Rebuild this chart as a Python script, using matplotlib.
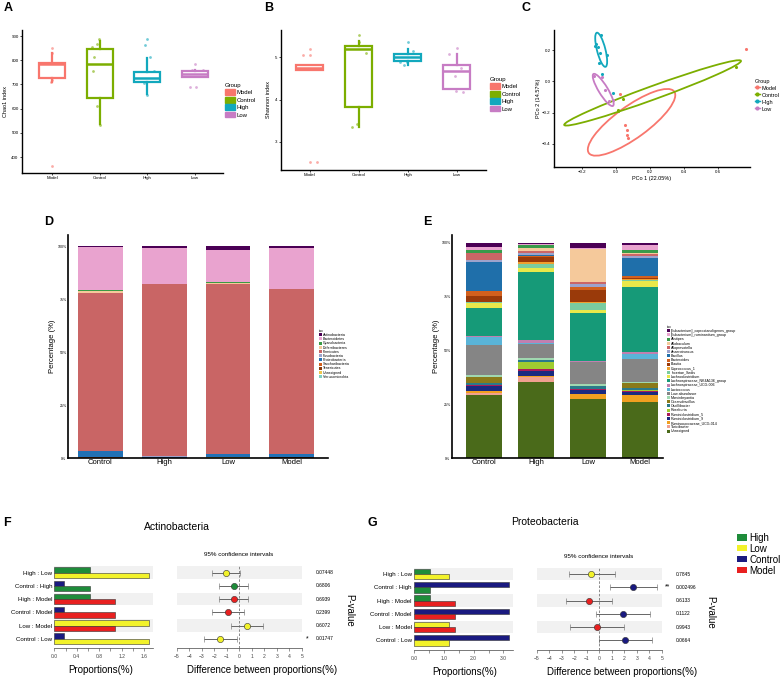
import numpy as np
import matplotlib
matplotlib.use("Agg")
import matplotlib.pyplot as plt
from matplotlib.patches import Ellipse, Patch
from matplotlib.lines import Line2D

plt.rcParams['font.family'] = ['Liberation Sans', 'DejaVu Sans']

# ---------------- data ----------------
groups = ["Model", "Control", "High", "Low"]
group_colors = ["#F8766D", "#7CAE00", "#12A8BD", "#C77CC4"]

# A: Chao1
chao_q1 = [725, 645, 710, 730]
chao_med = [783, 785, 728, 745]
chao_q3 = [790, 845, 750, 757]
chao_lo = [712, 535, 660, 730]
chao_hi = [830, 880, 810, 760]
chao_pts = [[852, 828, 711, 718, 363],
            [886, 867, 853, 814, 756, 610, 534],
            [886, 863, 812, 754, 704, 658],
            [783, 758, 758, 691, 691]]
chao_jit = [[0.0, 0.0, -0.03, -0.01, 0.0],
            [-0.01, -0.06, -0.17, -0.12, -0.14, -0.06, 0.01],
            [0.0, -0.04, 0.06, 0.14, -0.07, -0.01],
            [0.01, -0.07, 0.16, -0.1, 0.02]]

# B: Shannon
sh_q1 = [4.70, 3.83, 4.92, 4.26]
sh_med = [4.76, 5.21, 5.00, 4.68]
sh_q3 = [4.81, 5.27, 5.09, 4.82]
sh_lo = [4.70, 3.36, 4.82, 4.24]
sh_hi = [4.81, 5.40, 5.19, 5.09]
sh_pts = [[5.19, 5.06, 5.06, 2.53, 2.53],
          [5.54, 5.37, 5.11, 3.36, 3.42],
          [5.36, 5.15, 4.88, 4.82, 4.90],
          [5.23, 5.09, 4.75, 4.56, 4.21, 4.19]]
sh_jit = [[0.0, -0.15, 0.01, 0.0, 0.15],
          [0.0, 0.0, 0.15, -0.14, -0.03],
          [0.01, 0.1, -0.15, -0.08, -0.01],
          [0.0, -0.16, 0.08, -0.03, -0.01, 0.12]]

# C: PCoA
pc1 = [[0.764, 0.025, 0.052, 0.064, 0.068, 0.074],
       [0.706, 0.039, 0.010, 0.014],
       [-0.087, -0.116, -0.105, -0.126, -0.093, -0.054, -0.097, -0.083, -0.019],
       [-0.128, -0.081, -0.062, -0.039, -0.019]]
pc2 = [[0.206, -0.079, -0.281, -0.313, -0.343, -0.362],
       [0.094, -0.115, -0.183, -0.190],
       [0.300, 0.243, 0.221, 0.226, 0.183, 0.168, 0.119, 0.047, -0.077],
       [0.034, 0.026, -0.055, -0.123, -0.119]]
ell_center = [(0.092, -0.263), (0.216, -0.074), (-0.087, 0.203), (-0.075, -0.055)]
ell_width = [0.64, 1.12, 0.225, 0.235]
ell_height = [0.20, 0.085, 0.05, 0.055]
ell_angle = [38.6, 21.6, 103, -61]

# D: phylum
bar_groups = ["Control", "High", "Low", "Model"]
phyla = ["Actinobacteria", "Bacteroidetes", "Cyanobacteria", "Deferribacteres",
         "Firmicutes", "Fusobacteria", "Proteobacteria", "Saccharibacteria",
         "Tenericutes", "Unassigned", "Verrucomicrobia"]
phyla_colors = ["#4B0055", "#E9A3CF", "#3A9A45", "#F5C99B", "#C96565", "#9DA3CC",
                "#2171B5", "#D2601E", "#8B3A0A", "#EEC64A", "#80D0C0"]
phyla_pct = [[0.4, 1.0, 1.7, 1.0],
             [20.4, 16.8, 15.4, 19.0],
             [0.3, 0.1, 0.5, 0.2],
             [1.0, 0.1, 0.1, 0.1],
             [74.7, 81.3, 80.2, 77.5],
             [0.1, 0.1, 0.2, 0.1],
             [2.8, 0.5, 1.4, 1.6],
             [0.1, 0.05, 0.1, 0.1],
             [0.1, 0.05, 0.1, 0.1],
             [0.05, 0.05, 0.1, 0.1],
             [0.05, 0.0, 0.2, 0.1]]

# E: genus
genera = ["[Eubacterium]_coprostanoligenes_group", "[Eubacterium]_ruminantium_group",
          "Alistipes", "Allobaculum", "Alloprevotella", "Anaerotruncus", "Bacillus",
          "Bacteroides", "Blautia", "Coprococcus_1", "Incertae_Sedis", "Lachnoclostridium",
          "Lachnospiraceae_NK4A136_group", "Lachnospiraceae_UCG-006", "Lactococcus",
          "Low abundance", "Marvinbryantia", "Oceanobacillus", "Oscillibacter", "Roseburia",
          "Ruminiclostridium_5", "Ruminiclostridium_9", "Ruminococcaceae_UCG-014",
          "Turicibacter", "Unassigned"]
genera_colors = ["#4B0055", "#E9A3CF", "#3A9A4A", "#F5C99B", "#CC6666", "#9DA3CC",
                 "#1F6FAA", "#D2601E", "#9A3A0A", "#F0A030", "#7ACCA0", "#E8E84A",
                 "#169A78", "#C080B0", "#5AB4D8", "#858585", "#A0D8B0", "#8A7A1A",
                 "#2A7A8A", "#A0CC30", "#AA1A5A", "#1A2A80", "#F0A020", "#F0A090",
                 "#4A6A1A"]
genera_pct = [[2.0, 0.4, 2.3, 1.0],
              [1.5, 0.2, 0.3, 2.5],
              [1.0, 1.5, 0.2, 1.0],
              [0.3, 1.5, 15.5, 0.5],
              [3.0, 1.0, 1.0, 1.0],
              [1.0, 1.0, 1.0, 1.0],
              [13.5, 0.2, 0.2, 8.2],
              [2.5, 0.5, 1.5, 1.0],
              [2.5, 2.5, 5.5, 0.5],
              [0.3, 1.0, 0.5, 0.5],
              [0.3, 1.5, 3.0, 0.3],
              [2.5, 2.0, 1.5, 3.0],
              [13.0, 31.5, 22.5, 30.0],
              [0.5, 1.5, 0.3, 1.0],
              [3.5, 0.3, 0.2, 2.5],
              [14.0, 6.5, 10.0, 10.5],
              [1.0, 1.0, 1.0, 0.5],
              [2.5, 0.2, 0.2, 2.5],
              [1.0, 1.0, 1.0, 1.0],
              [0.3, 3.0, 0.2, 0.3],
              [0.3, 1.0, 0.5, 0.5],
              [2.5, 2.5, 2.0, 1.5],
              [1.0, 0.5, 2.0, 3.0],
              [0.5, 2.0, 0.2, 0.2],
              [29.5, 35.5, 27.4, 26.0]]

# F / G: pairwise comparisons
cmp_groups = ["High", "Low", "Control", "Model"]
cmp_colors = ["#1E8C3A", "#F2F22A", "#1A1A80", "#E82020"]
pairs = ["High : Low", "Control : High", "High : Model",
         "Control : Model", "Low : Model", "Control : Low"]

act_props = [0.64, 1.68, 0.18, 1.09]
act_diff = [-1.06, -0.45, -0.45, -0.90, 0.61, -1.52]
act_lo = [-2.18, -1.62, -1.62, -2.18, -0.69, -2.82]
act_hi = [0.05, 0.69, 0.69, 0.40, 1.91, -0.21]
act_p = ["0.07448", "0.6806", "0.6939", "0.2399", "0.6072", "0.01747"]
act_sig = ["", "", "", "", "", "*"]

pro_props = [0.54, 1.16, 3.18, 1.37]
pro_diff = [-0.64, 2.72, -0.83, 1.87, -0.19, 2.08]
pro_lo = [-2.45, 0.83, -2.67, -0.27, -2.32, -0.03]
pro_hi = [1.23, 4.61, 1.01, 4.03, 1.95, 4.24]
pro_p = ["0.7845", "0.002496", "0.6133", "0.1122", "0.9943", "0.0664"]
pro_sig = ["", "**", "", "", "", ""]

# ---------------- figure ----------------
W, H = 784, 678
fig = plt.figure(figsize=(W / 100, H / 100), dpi=100)


def axes_px(l, t, r, b):
    return fig.add_axes([l / W, 1 - b / H, (r - l) / W, (b - t) / H])


def text_px(x, y, s, **kw):
    fig.text(x / W, 1 - y / H, s, **kw)


def classic(ax, lw=1.0):
    for s in ["top", "right"]:
        ax.spines[s].set_visible(False)
    for s in ["left", "bottom"]:
        ax.spines[s].set_linewidth(lw)
    ax.tick_params(length=1.5, width=0.5, labelsize=3.2, pad=1)


def box_panel(ax, q1, med, q3, lo, hi, pts, jit):
    stats = [dict(q1=a, med=m, q3=b, whislo=l, whishi=h, fliers=[])
             for a, m, b, l, h in zip(q1, med, q3, lo, hi)]
    pos = np.arange(len(groups))
    art = ax.bxp(stats, positions=pos, widths=0.55, showfliers=False,
                 showcaps=False, patch_artist=True)
    for i, c in enumerate(group_colors):
        art['boxes'][i].set(facecolor='white', edgecolor=c, linewidth=1.6)
        art['medians'][i].set(color=c, linewidth=1.8)
        for w in art['whiskers'][2 * i:2 * i + 2]:
            w.set(color=c, linewidth=1.6)
        ax.scatter(pos[i] + np.array(jit[i]), pts[i], s=4, color=c, alpha=0.6,
                   zorder=4, lw=0)
    ax.set_xticks(pos, groups)
    ax.tick_params(axis='x', labelsize=4.2)
    classic(ax)


def group_legend(x, y, handles, hl=1.6, fs=4.3):
    fig.legend(handles=handles, labels=groups, title="Group", loc="upper left",
               bbox_to_anchor=(x / W, 1 - y / H), frameon=False, fontsize=fs,
               title_fontsize=fs, handlelength=hl, handleheight=1.1,
               handletextpad=0.3, labelspacing=0.25, borderpad=0,
               alignment="left")


# A
axA = axes_px(22, 30, 223, 173)
box_panel(axA, chao_q1, chao_med, chao_q3, chao_lo, chao_hi, chao_pts, chao_jit)
axA.set_xlim(-0.63, 3.59)
axA.set_ylim(334, 925)
axA.set_yticks([400, 500, 600, 700, 800, 900])
axA.set_ylabel("Chao1 index", fontsize=4, labelpad=2)
group_legend(222, 80, [Patch(facecolor=c, edgecolor=c) for c in group_colors])

# B
axB = axes_px(281, 30, 486, 170)
box_panel(axB, sh_q1, sh_med, sh_q3, sh_lo, sh_hi, sh_pts, sh_jit)
axB.set_xlim(-0.59, 3.6)
axB.set_ylim(2.33, 5.65)
axB.set_yticks([3, 4, 5])
axB.set_ylabel("Shannon index", fontsize=4, labelpad=3)
group_legend(487, 74, [Patch(facecolor=c, edgecolor=c) for c in group_colors])

# C
axC = axes_px(554, 30, 750, 167)
for i, c in enumerate(group_colors):
    axC.scatter(pc1[i], pc2[i], s=5, color=c, zorder=3, lw=0)
    axC.add_patch(Ellipse(ell_center[i], ell_width[i], ell_height[i], angle=ell_angle[i],
                          fill=False, edgecolor=c, linewidth=1.3))
axC.set_xlim(-0.365, 0.79)
axC.set_ylim(-0.55, 0.33)
axC.set_xticks([-0.2, 0.0, 0.2, 0.4, 0.6])
axC.set_yticks([-0.4, -0.2, 0.0, 0.2])
axC.set_xlabel("PCo 1 (22.05%)", fontsize=4, labelpad=1)
axC.set_ylabel("PCo 2 (14.57%)", fontsize=4, labelpad=1)
classic(axC)
group_legend(752, 76, [Line2D([], [], color=c, marker='o', ms=2, lw=1) for c in group_colors],
             hl=0.9, fs=4.0)


# D / E stacked bars
def stacked(ax, names, colors, pct, width, lx, ly):
    x = np.arange(len(bar_groups))
    bottom = np.zeros(len(bar_groups))
    for c, v in zip(colors[::-1], pct[::-1]):
        ax.bar(x, v, width=width, bottom=bottom, color=c, linewidth=0)
        bottom += np.array(v)
    handles = [Patch(facecolor=c) for c in colors]
    ax.set_xticks(x, bar_groups)
    ax.set_yticks([0, 25, 50, 75, 100], ["0%", "25%", "50%", "75%", "100%"])
    ax.set_ylabel("Percentage (%)", fontsize=5.5, labelpad=1)
    classic(ax, lw=1.2)
    ax.tick_params(axis='y', labelsize=2.6, length=0, pad=1)
    ax.tick_params(axis='x', labelsize=5.5, length=0, pad=1)
    fig.legend(handles=handles, labels=names, title="tax", loc="upper left",
               bbox_to_anchor=(lx / W, 1 - ly / H), frameon=False, fontsize=2.6,
               title_fontsize=2.6, handlelength=0.9, handleheight=0.9,
               handletextpad=0.3, labelspacing=0.05, borderpad=0, alignment="left")


axD = axes_px(68, 235, 328, 458)
stacked(axD, phyla, phyla_colors, phyla_pct, 0.7, 317, 327)
axD.set_xlim(-0.51, 3.57)
axD.set_ylim(0, 105.2)

axE = axes_px(452, 235, 663, 458)
stacked(axE, genera, genera_colors, genera_pct, 0.69, 665, 323)
axE.set_xlim(-0.615, 3.44)
axE.set_ylim(0, 103.7)


# F / G comparisons
def comparison(ax_bar, ax_ci, props, diff, lo, hi, pvals, sig, xmax, major, minor, labels):
    n = len(pairs)
    ys = np.arange(n)[::-1]
    for k, y in enumerate(ys):
        a, b = pairs[k].split(" : ")
        ia, ib = cmp_groups.index(a), cmp_groups.index(b)
        if k % 2 == 0:
            ax_bar.axhspan(y - 0.47, y + 0.47, color='#F1F1F1', lw=0, zorder=0)
            ax_ci.axhspan(y - 0.47, y + 0.47, color='#F1F1F1', lw=0, zorder=0)
        ax_bar.barh(y + 0.2, props[ia], height=0.4, color=cmp_colors[ia],
                    edgecolor='#333333', lw=0.4, zorder=2)
        ax_bar.barh(y - 0.2, props[ib], height=0.4, color=cmp_colors[ib],
                    edgecolor='#333333', lw=0.4, zorder=2)
        win = ia if diff[k] > 0 else ib
        ax_ci.errorbar(diff[k], y, xerr=[[diff[k] - lo[k]], [hi[k] - diff[k]]],
                       fmt='o', color=cmp_colors[win], ecolor='#666666', elinewidth=0.7,
                       capsize=2, capthick=0.7, ms=4.5, mec='#333333', mew=0.4, zorder=3)
        ax_ci.text(6.1, y, pvals[k], fontsize=3.5, va='center', ha='left', clip_on=False)
        if sig[k]:
            ax_ci.text(5.45, y, sig[k], fontsize=5, va='center', ha='center', clip_on=False)
    ax_ci.axvline(0, color='#777777', lw=0.6, ls=(0, (3, 2)), zorder=1)
    for ax in (ax_bar, ax_ci):
        for s in ["top", "right", "left"]:
            ax.spines[s].set_visible(False)
        ax.spines["bottom"].set_linewidth(0.5)
        ax.spines["bottom"].set_color('#444444')
        ax.set_ylim(-0.72, 5.5)
        ax.tick_params(axis='x', length=2, width=0.4, labelsize=3.6, pad=2, colors='#444444')
        ax.tick_params(axis='x', which='minor', length=2, width=0.4, colors='#444444')
    ax_bar.set_xlim(0, xmax)
    ax_bar.set_xticks(major, labels)
    ax_bar.set_xticks(minor, minor=True)
    ax_bar.set_yticks(ys, pairs)
    ax_bar.tick_params(axis='y', length=0, labelsize=4.4, pad=1.5)
    ax_ci.set_xlim(-5, 5)
    ax_ci.set_xticks(np.arange(-5, 6))
    ax_ci.set_yticks([])


axFb = axes_px(54.3, 566, 153, 648.3)
axFc = axes_px(176.7, 566, 302, 648.3)
comparison(axFb, axFc, act_props, act_diff, act_lo, act_hi, act_p, act_sig, 1.76,
           [0.0, 0.4, 0.8, 1.2, 1.6], [0.2, 0.6, 1.0, 1.4],
           ["0.0", "0.4", "0.8", "1.2", "1.6"])

axGb = axes_px(414, 567.4, 512.7, 650)
axGc = axes_px(536.7, 567.4, 661.7, 650)
comparison(axGb, axGc, pro_props, pro_diff, pro_lo, pro_hi, pro_p, pro_sig, 3.31,
           [0.0, 1.0, 2.0, 3.0], [0.5, 1.5, 2.5], ["0.0", "1.0", "2.0", "3.0"])

text_px(177, 527, "Actinobacteria", fontsize=7.5, ha='center', va='center')
text_px(545, 522, "Proteobacteria", fontsize=7.5, ha='center', va='center')
text_px(239, 555, "95% confidence intervals", fontsize=4.5, ha='center', va='center')
text_px(599, 557, "95% confidence intervals", fontsize=4.5, ha='center', va='center')
text_px(101, 670, "Proportions(%)", fontsize=7, ha='center', va='center')
text_px(465, 672, "Proportions(%)", fontsize=7, ha='center', va='center')
text_px(262, 670, "Difference between proportions(%)", fontsize=7, ha='center', va='center')
text_px(622, 672, "Difference between proportions(%)", fontsize=7, ha='center', va='center')
text_px(349, 610, "P-value", fontsize=7, ha='center', va='center', rotation=270)
text_px(710, 612, "P-value", fontsize=7, ha='center', va='center', rotation=270)

fig.legend(handles=[Patch(facecolor=c) for c in cmp_colors], labels=cmp_groups,
           loc="upper left", bbox_to_anchor=(732 / W, 1 - 528 / H), frameon=False,
           fontsize=7, handlelength=1.0, handleheight=0.6, handletextpad=0.3,
           labelspacing=0.1, borderpad=0)

# panel letters
for lab, x, y in [("A", 4, 8), ("B", 264, 8), ("C", 522, 8), ("D", 44, 222),
                  ("E", 423, 222), ("F", 3, 523), ("G", 368, 523)]:
    text_px(x, y, lab, fontsize=9, fontweight='bold', ha='left', va='center')

fig.savefig("out.png", dpi=100)
